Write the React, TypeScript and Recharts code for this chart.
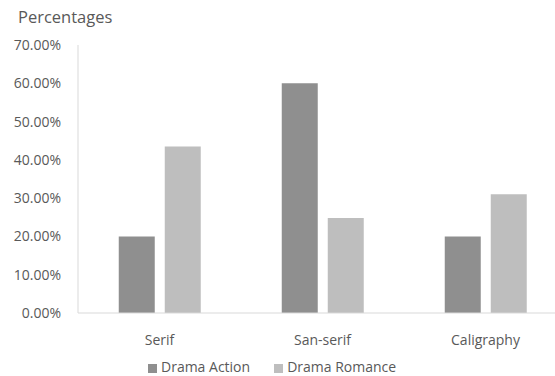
import React from 'react';
import { BarChart, Bar, XAxis, YAxis, Legend } from 'recharts';

const categories = ['Serif', 'San-serif', 'Caligraphy'];
const dramaAction = [0.2, 0.6, 0.2];
const dramaRomance = [0.435, 0.248, 0.31];
const yTicks = [0, 0.1, 0.2, 0.3, 0.4, 0.5, 0.6, 0.7];

const data = categories.map((name, i) => ({
  name,
  action: dramaAction[i],
  romance: dramaRomance[i],
}));

const FONT = '"Open Sans", sans-serif';
const TEXT = '#595959';

export default function App() {
  return (
    <div
      style={{
        position: 'absolute',
        left: 0,
        top: 0,
        width: 555,
        height: 376,
        overflow: 'hidden',
        background: '#fff',
        fontFamily: FONT,
      }}
    >
      <div style={{ position: 'absolute', left: 18, top: 5, fontSize: 16.5, color: TEXT }}>
        Percentages
      </div>
      <BarChart
        width={575}
        height={376}
        data={data}
        margin={{ top: 45, right: 8, bottom: 4, left: 0 }}
        barCategoryGap="25%"
        barGap={10}
      >
        <XAxis
          dataKey="name"
          height={40}
          tickLine={false}
          axisLine={{ stroke: '#d9d9d9' }}
          tickMargin={16}
          tick={{ fill: TEXT, fontSize: 14, fontFamily: FONT }}
        />
        <YAxis
          width={78}
          domain={[0, 0.7]}
          ticks={yTicks}
          interval={0}
          tickLine={false}
          axisLine={{ stroke: '#d9d9d9' }}
          tickMargin={11}
          tickFormatter={(v: number) => `${(v * 100).toFixed(2)}%`}
          tick={{ fill: TEXT, fontSize: 14, fontFamily: FONT }}
        />
        <Legend
          align="left"
          verticalAlign="bottom"
          iconType="square"
          iconSize={9}
          wrapperStyle={{ left: 148, top: 357, width: 360, fontSize: 14, fontFamily: FONT }}
          formatter={(value: string) => <span style={{ color: TEXT, marginRight: 14 }}>{value}</span>}
        />
        <Bar name="Drama Action" dataKey="action" fill="#8f8f8f" isAnimationActive={false} />
        <Bar name="Drama Romance" dataKey="romance" fill="#bebebe" isAnimationActive={false} />
      </BarChart>
    </div>
  );
}
